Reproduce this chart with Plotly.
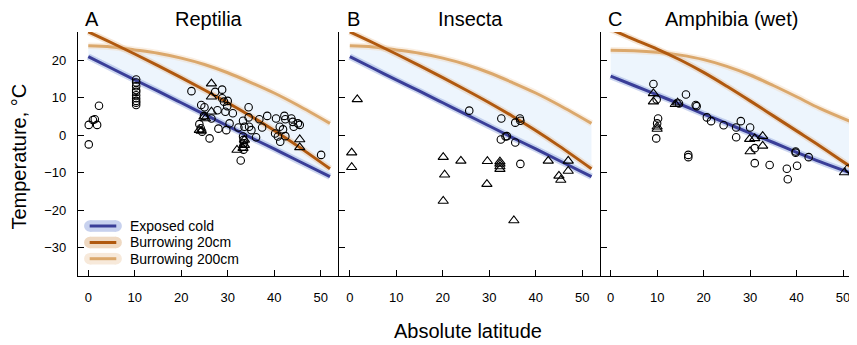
import plotly.graph_objects as go

W, H = 857, 345
OFF = 8  # page body margin offset
ML = 78 - OFF
MT = 32 - OFF
PLOT_BOTTOM = 276 - OFF
MB = H - PLOT_BOTTOM
RIGHT = 862.5 - OFF
MR = W - RIGHT
PW = W - ML - MR
PH = H - MT - MB

def px_x(p):
    return (p - OFF - ML) / PW

def px_y(p):
    return (PLOT_BOTTOM - (p - OFF)) / PH

FONT = "Liberation Sans, Arial, Helvetica, sans-serif"

# ---------------- model curves ----------------
CURVE_LAT = [0, 5, 10, 15, 20, 25, 30, 35, 40, 45, 52]
A_EXPOSED = [20.9, 17.8, 14.7, 11.7, 8.6, 5.5, 2.4, -0.7, -3.7, -6.8, -11.1]
A_B20 = [27.5, 24.6, 21.6, 18.5, 15.3, 12.0, 8.6, 5.0, 1.2, -2.9, -9.0]
A_B200 = [23.8, 23.5, 22.7, 21.8, 20.5, 18.8, 16.6, 14.0, 11.2, 8.0, 3.1]
B_EXPOSED = A_EXPOSED
B_B20 = A_B20
B_B200 = A_B200
C_EXPOSED = [15.7, 13.2, 10.7, 8.2, 5.6, 3.1, 0.5, -2.0, -4.6, -7.1, -10.3]
C_B20 = [28.2, 25.5, 22.9, 20.0, 16.7, 13.0, 9.1, 5.1, 1.1, -2.9, -8.8]
C_B200 = [22.6, 22.5, 22.1, 21.3, 20.1, 18.3, 16.0, 13.2, 10.2, 7.1, 3.4]

# ---------------- observations ----------------
REP_CIRC_LAT = [0.1, 0.1, 1.0, 1.4, 1.9, 2.3,
                10.3, 10.3, 10.3, 10.3, 10.3, 10.3, 10.3, 10.3, 10.3, 10.3,
                22.2, 24.3, 25.0, 23.9, 24.2, 24.5, 24.9, 26.1, 26.5, 27.3, 28.8,
                27.8, 28.0, 28.8, 29.2, 30.0, 29.9, 29.5, 29.7, 30.4, 31.1,
                33.3, 33.6, 34.5, 34.5, 34.6, 35.1, 32.3, 36.1, 36.8, 37.4, 38.5,
                40.4, 40.2, 40.8, 41.3, 41.2, 41.9, 42.2, 42.4, 42.4, 43.7, 44.0,
                44.2, 45.1, 45.5, 50.1, 32.8, 33.3, 33.4, 33.5, 33.3, 33.4]
REP_CIRC_T = [-2.5, 2.7, 4.0, 4.2, 2.7, 7.8,
              14.8, 14.0, 13.0, 12.0, 11.5, 10.6, 9.8, 9.1, 8.6, 8.0,
              11.7, 8.0, 7.4, 2.9, 1.8, 0.9, 5.1, -0.9, 4.4, 11.5, 12.1,
              6.6, 1.7, 9.8, 8.9, 9.1, 7.7, 6.2, 1.3, 3.1, 5.8,
              3.8, 2.2, 7.4, 4.7, 2.2, 1.3, 2.0, -0.6, 4.2, 2.0, 5.1,
              4.4, 0.4, -0.4, -1.8, 2.2, 1.5, 5.1, 4.2, -0.3, 4.4, 3.5,
              2.2, 3.1, 2.7, -5.3, -6.8, -0.4, -1.3, -2.2, -3.1, -3.9]
REP_TRI_LAT = [26.5, 26.5, 26.5, 24.9, 25.2, 23.9, 24.3, 32.0, 33.3, 33.6, 33.6, 45.5, 45.5]
REP_TRI_T = [13.7, 10.2, 6.2, 4.9, 4.4, 1.3, 1.1, -4.0, -3.5, -2.7, -1.3, -1.2, -3.3]

INS_CIRC_LAT = [25.7, 32.6, 32.5, 33.5, 33.8, 35.6, 35.6, 36.6, 36.7, 36.7]
INS_CIRC_T = [6.5, 4.4, -1.2, -0.4, -0.3, 3.3, -2.0, 4.4, 3.8, -7.7]
INS_TRI_LAT = [1.6, 0.4, 0.4, 20.1, 20.4, 20.1, 23.9, 29.6, 29.5, 32.3, 32.3, 32.3, 32.3,
               35.3, 42.7, 45.0, 45.4, 47.0, 47.0]
INS_TRI_T = [9.5, -4.7, -8.6, -5.9, -10.6, -17.6, -6.9, -7.0, -13.1, -7.1, -7.7, -8.4, -9.1,
             -22.8, -6.9, -10.9, -12.0, -6.9, -9.6]

AMP_CIRC_LAT = [9.2, 9.9, 10.2, 10.0, 9.8, 14.7, 16.2, 16.7, 16.7, 18.3, 18.5, 20.7, 21.6,
                24.3, 27.0, 27.0, 28.0, 30.0, 31.0, 31.0, 34.2, 37.9, 38.1, 39.8, 39.8,
                40.1, 42.6, 51.2]
AMP_CIRC_T = [13.6, 9.5, 4.4, 3.1, -0.9, 8.4, 10.8, -5.3, -5.9, 8.0, 7.7, 4.7, 3.7,
              2.6, 2.0, -0.6, 3.7, 2.0, -3.5, -7.5, -8.0, -9.0, -11.8, -4.4, -4.7,
              -8.2, -5.9, -9.0]
AMP_TRI_LAT = [9.2, 9.2, 10.0, 10.0, 13.9, 14.4, 29.9, 31.0, 32.7, 32.7, 30.0, 50.3]
AMP_TRI_T = [11.1, 8.9, 2.2, 1.6, 8.2, 8.6, -1.1, -0.9, -0.3, -2.9, -4.4, -10.0]

PANEL_TITLES = ["Reptilia", "Insecta", "Amphibia (wet)"]
PANEL_LETTERS = ["A", "B", "C"]
LEGEND_NAMES = ["Exposed cold", "Burrowing 20cm", "Burrowing 200cm"]
X_TICKS = [0, 10, 20, 30, 40, 50]
Y_TICKS = [-30, -20, -10, 0, 10, 20]

# ---------------- styles ----------------
C_BLUE = "#3a3e98"
C_BLUE_H = "rgba(160,178,225,0.55)"
C_BROWN = "#b0590f"
C_BROWN_H = "rgba(225,180,135,0.35)"
C_TAN = "#dba86c"
C_TAN_H = "rgba(240,210,175,0.35)"
C_FILL = "#edf5fd"

panels = [
    (A_EXPOSED, A_B20, A_B200, REP_CIRC_LAT, REP_CIRC_T, REP_TRI_LAT, REP_TRI_T),
    (B_EXPOSED, B_B20, B_B200, INS_CIRC_LAT, INS_CIRC_T, INS_TRI_LAT, INS_TRI_T),
    (C_EXPOSED, C_B20, C_B200, AMP_CIRC_LAT, AMP_CIRC_T, AMP_TRI_LAT, AMP_TRI_T),
]

fig = go.Figure()
for i, (exp, b20, b200, clat, ct, tlat, tt) in enumerate(panels):
    xa = "x" if i == 0 else f"x{i+1}"
    ya = "y" if i == 0 else f"y{i+1}"
    fig.add_trace(go.Scatter(x=CURVE_LAT, y=b200, mode="lines", line=dict(width=0, shape="spline"),
                             hoverinfo="skip", showlegend=False, xaxis=xa, yaxis=ya))
    fig.add_trace(go.Scatter(x=CURVE_LAT, y=exp, mode="lines", line=dict(width=0, shape="spline"),
                             fill="tonexty", fillcolor=C_FILL,
                             hoverinfo="skip", showlegend=False, xaxis=xa, yaxis=ya))
    for vals, col, halo in [(b200, C_TAN, C_TAN_H), (b20, C_BROWN, C_BROWN_H), (exp, C_BLUE, C_BLUE_H)]:
        fig.add_trace(go.Scatter(x=CURVE_LAT, y=vals, mode="lines",
                                 line=dict(width=6.5, color=halo, shape="spline"),
                                 hoverinfo="skip", showlegend=False, xaxis=xa, yaxis=ya))
        fig.add_trace(go.Scatter(x=CURVE_LAT, y=vals, mode="lines",
                                 line=dict(width=3, color=col, shape="spline"),
                                 showlegend=False, xaxis=xa, yaxis=ya))
    fig.add_trace(go.Scatter(x=clat, y=ct, mode="markers",
                             marker=dict(symbol="circle-open", size=7.5, color="black",
                                         line=dict(width=1.1, color="black")),
                             showlegend=False, xaxis=xa, yaxis=ya))
    fig.add_trace(go.Scatter(x=tlat, y=tt, mode="markers",
                             marker=dict(symbol="triangle-up-open", size=9, color="black",
                                         line=dict(width=1.1, color="black")),
                             showlegend=False, xaxis=xa, yaxis=ya))

domains = [[0, px_x(339.5)], [px_x(339.5), px_x(601)], [px_x(601), 1]]
xranges = [[-2.215, 54.02], [-2.26, 53.98], [-2.15, 54.07]]
yrange = [-37.6, 27.47]

axis_common = dict(showline=True, linecolor="black", linewidth=1.3, ticks="inside",
                   ticklen=6, tickwidth=1, tickcolor="black", showgrid=False, zeroline=False,
                   tickfont=dict(family=FONT, size=13, color="black"))
layout = dict(width=W, height=H, margin=dict(l=ML, r=MR, t=MT, b=MB),
              paper_bgcolor="white", plot_bgcolor="white", showlegend=False,
              font=dict(family=FONT, color="black"))
for i in range(3):
    xk = "xaxis" if i == 0 else f"xaxis{i+1}"
    yk = "yaxis" if i == 0 else f"yaxis{i+1}"
    layout[xk] = dict(axis_common, domain=domains[i], range=xranges[i], tickvals=X_TICKS,
                      anchor="y" if i == 0 else f"y{i+1}", ticklabelstandoff=9)
    layout[yk] = dict(axis_common, domain=[0, 1], range=yrange, tickvals=Y_TICKS,
                      anchor="x" if i == 0 else f"x{i+1}", showticklabels=(i == 0),
                      ticklabelstandoff=8)
fig.update_layout(**layout)

ann = []
title_cx = [208.7, 470.3, 731.8]
letter_x = [83, 345, 606]
for i in range(3):
    ann.append(dict(text=PANEL_TITLES[i], x=px_x(title_cx[i]), y=px_y(19), xref="paper", yref="paper",
                    xanchor="center", yanchor="middle", showarrow=False,
                    font=dict(family=FONT, size=20, color="black")))
    ann.append(dict(text=PANEL_LETTERS[i], x=px_x(letter_x[i]), y=px_y(19), xref="paper", yref="paper",
                    xanchor="left", yanchor="middle", showarrow=False,
                    font=dict(family=FONT, size=20, color="black")))
ann.append(dict(text="Absolute latitude", x=px_x(468), y=px_y(331), xref="paper", yref="paper",
                xanchor="center", yanchor="middle", showarrow=False,
                font=dict(family=FONT, size=20, color="black")))
ann.append(dict(text="Temperature, °C", x=px_x(18), y=px_y(156.5), xref="paper", yref="paper",
                xanchor="center", yanchor="middle", showarrow=False, textangle=-90,
                font=dict(family=FONT, size=20, color="black")))

# custom legend
shapes = []
leg_rows = [226, 242.5, 258.7]
leg_cols = [(C_BLUE, "#c7d1ee"), (C_BROWN, "#efd9c2"), (C_TAN, "#f7e9da")]
pill_cx, half_len, r = 103.0, 18.9, 5.8
for row, name, (col, halo) in zip(leg_rows, LEGEND_NAMES, leg_cols):
    xa_, ya_ = px_x(pill_cx), px_y(row)
    shapes.append(dict(type="rect", xref="paper", yref="paper", xsizemode="pixel", ysizemode="pixel",
                       xanchor=xa_, yanchor=ya_, x0=-half_len + r, x1=half_len - r, y0=-r, y1=r,
                       fillcolor=halo, line=dict(width=0), layer="above"))
    for cxo in (-half_len + r, half_len - r):
        shapes.append(dict(type="circle", xref="paper", yref="paper", xsizemode="pixel", ysizemode="pixel",
                           xanchor=xa_, yanchor=ya_, x0=cxo - r, x1=cxo + r, y0=-r, y1=r,
                           fillcolor=halo, line=dict(width=0), layer="above"))
    shapes.append(dict(type="line", xref="paper", yref="paper", xsizemode="pixel", ysizemode="pixel",
                       xanchor=xa_, yanchor=ya_, x0=-13.3, x1=13.3, y0=0, y1=0,
                       line=dict(width=3, color=col), layer="above"))
    ann.append(dict(text=name, x=px_x(128.5), y=px_y(row), xref="paper", yref="paper",
                    xanchor="left", yanchor="middle", showarrow=False,
                    font=dict(family=FONT, size=14, color="black")))

fig.update_layout(annotations=ann, shapes=shapes)
fig.write_html("out.html")
